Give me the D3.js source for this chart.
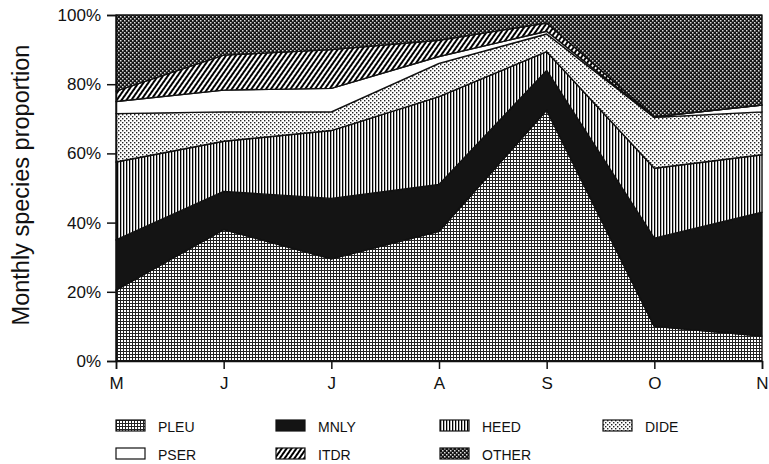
<!DOCTYPE html>
<html>
<head>
<meta charset="utf-8">
<script src="https://cdn.jsdelivr.net/npm/d3@7"></script>
<style>
  body { margin: 0; background: #fff; }
  svg { display: block; font-family: "Liberation Sans", Arial, sans-serif; }
</style>
</head>
<body>
<svg id="chart" width="769" height="464"></svg>
<script>
// month labels along the x axis
const months = ["M", "J", "J", "A", "S", "O", "N"];
const keys = ["PLEU", "MNLY", "HEED", "DIDE", "PSER", "ITDR", "OTHER"];

// monthly proportions (%) per species
const PLEU  = [20.5, 38, 29.5, 37.5, 72.5, 10, 7.2];
const MNLY  = [14.5, 11, 17.5, 13.5, 11.5, 25.5, 35.8];
const HEED  = [22.5, 14.5, 19.6, 25.4, 5.4, 20.2, 16.6];
const DIDE  = [14, 8.5, 5.4, 9.6, 5.1, 14.7, 12.4];
const PSER  = [3.5, 6.3, 6.8, 2, 0.8, 0.2, 2];
const ITDR  = [3, 10.1, 11.2, 4.7, 2.4, 0, 0];
const OTHER = [22, 11.6, 10, 7.3, 2.3, 29.4, 26];

const yTicks = [0, 20, 40, 60, 80, 100];

const series = { PLEU, MNLY, HEED, DIDE, PSER, ITDR, OTHER };
const table = months.map((m, i) => {
  const row = { i: i };
  keys.forEach(k => { row[k] = series[k][i]; });
  return row;
});

const svg = d3.select("#chart");
const plot = { left: 116, right: 762, top: 15, bottom: 361 };

const x = d3.scaleLinear().domain([0, months.length - 1]).range([plot.left, plot.right]);
const y = d3.scaleLinear().domain([0, 100]).range([plot.bottom, plot.top]);

// fill patterns to imitate the printed textures
const defs = svg.append("defs");

function pattern(id, w, h) {
  return defs.append("pattern")
    .attr("id", id)
    .attr("patternUnits", "userSpaceOnUse")
    .attr("width", w)
    .attr("height", h);
}

// PLEU: fine grid
let p = pattern("p-PLEU", 3, 3);
p.append("rect").attr("width", 3).attr("height", 3).attr("fill", "#fff");
p.append("rect").attr("width", 3).attr("height", 1).attr("fill", "#222");
p.append("rect").attr("width", 1).attr("height", 3).attr("fill", "#222");

// HEED: vertical lines
p = pattern("p-HEED", 3, 3);
p.append("rect").attr("width", 3).attr("height", 3).attr("fill", "#fff");
p.append("rect").attr("width", 1.3).attr("height", 3).attr("fill", "#000");

// DIDE: light stipple
p = pattern("p-DIDE", 4, 4);
p.append("rect").attr("width", 4).attr("height", 4).attr("fill", "#fff");
p.append("rect").attr("x", 0).attr("y", 0).attr("width", 1.4).attr("height", 1.4).attr("fill", "#222");
p.append("rect").attr("x", 2).attr("y", 2).attr("width", 1.4).attr("height", 1.4).attr("fill", "#222");

// ITDR: diagonal hatch
p = pattern("p-ITDR", 4, 4).attr("patternTransform", "rotate(35)");
p.append("rect").attr("width", 4).attr("height", 4).attr("fill", "#fff");
p.append("rect").attr("width", 2).attr("height", 4).attr("fill", "#000");

// OTHER: dense dark stipple
p = pattern("p-OTHER", 4, 4);
p.append("rect").attr("width", 4).attr("height", 4).attr("fill", "#151515");
p.append("rect").attr("x", 0).attr("y", 0).attr("width", 1.5).attr("height", 1.5).attr("fill", "#ddd");
p.append("rect").attr("x", 2).attr("y", 2).attr("width", 1.5).attr("height", 1.5).attr("fill", "#ddd");

const fills = {
  PLEU: "url(#p-PLEU)",
  MNLY: "#141414",
  HEED: "url(#p-HEED)",
  DIDE: "url(#p-DIDE)",
  PSER: "#fff",
  ITDR: "url(#p-ITDR)",
  OTHER: "url(#p-OTHER)"
};

const stacked = d3.stack().keys(keys)(table);

const area = d3.area()
  .x(d => x(d.data.i))
  .y0(d => y(d[0]))
  .y1(d => y(d[1]));

svg.append("g")
  .selectAll("path")
  .data(stacked)
  .join("path")
  .attr("d", area)
  .attr("fill", d => fills[d.key])
  .attr("stroke", "#111")
  .attr("stroke-width", 1.4)
  .attr("stroke-linejoin", "round");

// axes
svg.append("g")
  .attr("transform", "translate(" + plot.left + ",0)")
  .call(d3.axisLeft(y).tickValues(yTicks).tickFormat(d => d + "%").tickSize(9).tickPadding(6));

svg.append("g")
  .attr("transform", "translate(0," + plot.bottom + ")")
  .call(d3.axisBottom(x).tickValues(d3.range(months.length)).tickFormat(i => months[i]).tickSize(8).tickPadding(8));

svg.selectAll(".domain").attr("stroke", "#111").attr("stroke-width", 1.5);
svg.selectAll(".tick line").attr("stroke", "#111").attr("stroke-width", 1.5);
svg.selectAll(".tick text").attr("font-size", 17).attr("fill", "#111")
  .attr("font-family", "'Liberation Sans', Arial, sans-serif");

// y axis title
svg.append("text")
  .attr("transform", "translate(29,185) rotate(-90)")
  .attr("text-anchor", "middle")
  .attr("font-size", 23.5)
  .attr("fill", "#111")
  .text("Monthly species proportion");

// legend
const legendRows = [["PLEU", "MNLY", "HEED", "DIDE"], ["PSER", "ITDR", "OTHER"]];
const legendX = [116, 276, 440, 603];
const legendY = [420, 448];

legendRows.forEach((row, r) => {
  row.forEach((k, c) => {
    const g = svg.append("g")
      .attr("transform", "translate(" + legendX[c] + "," + legendY[r] + ")");
    g.append("rect")
      .attr("width", 29)
      .attr("height", 11)
      .attr("fill", fills[k])
      .attr("stroke", "#111")
      .attr("stroke-width", 1.2);
    g.append("text")
      .attr("x", 42)
      .attr("y", 11.5)
      .attr("font-size", 14)
      .attr("fill", "#111")
      .text(k);
  });
});
</script>
</body>
</html>
